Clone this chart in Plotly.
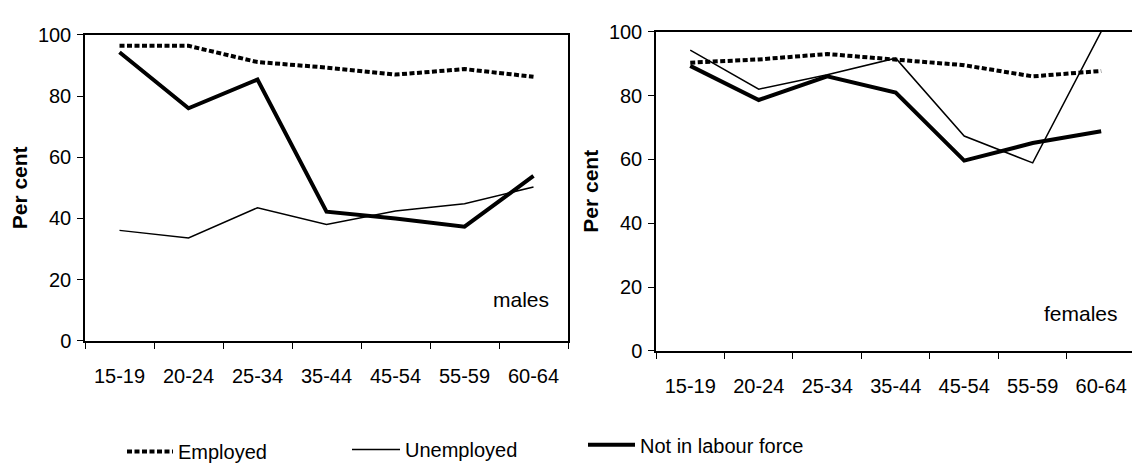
import plotly.graph_objects as go

# age groups
ages = ["15-19", "20-24", "25-34", "35-44", "45-54", "55-59", "60-64"]

# males
male_employed = [96.4, 96.4, 91.1, 89.3, 87.0, 88.8, 86.3]
male_unemployed = [36.1, 33.6, 43.5, 38.0, 42.4, 44.8, 50.3]
male_nilf = [94.3, 76.0, 85.4, 42.2, 40.0, 37.3, 53.9]

# females
female_employed = [90.3, 91.3, 93.0, 91.3, 89.5, 86.0, 87.7]
female_unemployed = [94.2, 82.0, 86.5, 91.7, 67.3, 58.9, 100.0]
female_nilf = [89.3, 78.6, 86.0, 80.9, 59.6, 65.1, 68.8]

y_ticks = [0, 20, 40, 60, 80, 100]

W, H = 1132, 471
FONT = "Liberation Sans, Arial, sans-serif"

styles = {
    "Employed": dict(color="black", width=4, dash="5px,2.5px"),
    "Unemployed": dict(color="black", width=1.5),
    "Not in labour force": dict(color="black", width=4),
}
legends = {"Employed": "legend", "Unemployed": "legend2", "Not in labour force": "legend3"}

fig = go.Figure()

panels = [
    ("x", "y", [male_employed, male_unemployed, male_nilf], True),
    ("x2", "y2", [female_employed, female_unemployed, female_nilf], False),
]
for xa, ya, series, show in panels:
    for name, vals in zip(["Employed", "Unemployed", "Not in labour force"], series):
        fig.add_trace(go.Scatter(
            x=ages, y=vals, name=name, mode="lines",
            line=styles[name], xaxis=xa, yaxis=ya,
            showlegend=show, legend=legends[name],
        ))

def px_x(p):
    return p / W

def px_y(p):
    return (H - p) / H

axis_font = dict(family=FONT, size=20, color="black")
leg_font = dict(family=FONT, size=20, color="black")

xcommon = dict(
    type="category", tickson="boundaries", ticks="outside", ticklen=6,
    tickcolor="black", showline=True, linecolor="black", linewidth=1.5,
    showgrid=False, tickfont=axis_font, ticklabelstandoff=16,
)
ycommon = dict(
    range=[0, 100], tickvals=y_ticks, ticks="outside", ticklen=6,
    tickcolor="black", showline=True, linecolor="black", linewidth=1.5,
    showgrid=False, zeroline=False, tickfont=axis_font, ticklabelstandoff=2,
    title=dict(text="<b>Per cent</b>", font=dict(family=FONT, size=21, color="black"), standoff=5),
)

fig.update_layout(
    width=W, height=H,
    margin=dict(l=0, r=0, t=0, b=0),
    paper_bgcolor="white", plot_bgcolor="white",
    font=dict(family=FONT, color="black"),
    xaxis=dict(xcommon, domain=[px_x(85), px_x(568)], anchor="y", mirror=True, range=[-0.5, 6.5]),
    yaxis=dict(ycommon, domain=[px_y(346), px_y(25)], anchor="x", mirror=True),
    xaxis2=dict(xcommon, domain=[px_x(656), 1.0], anchor="y2", mirror=True, range=[-0.5, 6.45]),
    yaxis2=dict(ycommon, domain=[px_y(356.5), px_y(21.7)], anchor="x2"),
    legend=dict(x=px_x(122), y=px_y(462), xanchor="left", yanchor="middle", itemwidth=46,
                font=leg_font, bgcolor="rgba(0,0,0,0)"),
    legend2=dict(x=px_x(347), y=px_y(460), xanchor="left", yanchor="middle", itemwidth=48,
                 font=leg_font, bgcolor="rgba(0,0,0,0)"),
    legend3=dict(x=px_x(583), y=px_y(455), xanchor="left", yanchor="middle", itemwidth=47,
                 font=leg_font, bgcolor="rgba(0,0,0,0)"),
    annotations=[
        dict(text="males", xref="paper", yref="paper", x=px_x(551), y=px_y(303),
             xanchor="right", yanchor="middle", showarrow=False,
             font=dict(family=FONT, size=21, color="black")),
        dict(text="females", xref="paper", yref="paper", x=px_x(1120), y=px_y(317),
             xanchor="right", yanchor="middle", showarrow=False,
             font=dict(family=FONT, size=21, color="black")),
    ],
)

# page has a default 8px body margin; drop it so the figure fills the window
fig.write_html("out.html", config={"displayModeBar": False},
               post_script="document.body.style.margin='0';")
